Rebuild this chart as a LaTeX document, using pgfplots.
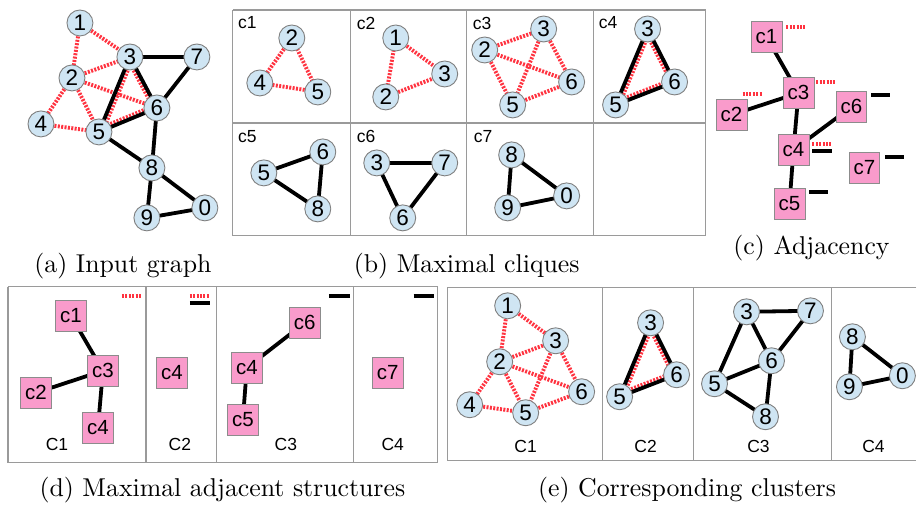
\documentclass[border=0pt]{standalone}
\usepackage{pgfplots}
\pgfplotsset{compat=1.18}
\usepackage{fontspec}
\newfontfamily\arial{Liberation Sans}
\newfontfamily\capfont{lmroman10-regular.otf}

\definecolor{vblue}{HTML}{CFE5F3}
\definecolor{vgray}{HTML}{7F7F7F}
\definecolor{sqpink}{HTML}{F99BCB}
\definecolor{sqgray}{HTML}{8C8C8C}
\definecolor{edgered}{HTML}{FF3340}
\definecolor{boxgray}{HTML}{9A9A9A}

\pgfplotsset{
  blk/.style={black, line width=3.8pt, mark=none},
  rdot/.style={edgered, line width=3.9pt, dash pattern=on 2pt off 1.4pt, mark=none},
  box/.style={boxgray, line width=1.2pt, mark=none},
  vtx/.style={only marks, mark=*, mark size=13pt,
    mark options={fill=vblue, draw=vgray, line width=0.9pt, solid},
    point meta=explicit symbolic, nodes near coords, nodes near coords align={center},
    nodes near coords style={font=\arial\fontsize{22.5}{24}\selectfont, text=black, inner sep=0pt}},
  sq/.style={only marks, mark=square*, mark size=15.5pt,
    mark options={fill=sqpink, draw=sqgray, line width=0.9pt, solid},
    point meta=explicit symbolic, nodes near coords, nodes near coords align={center},
    nodes near coords style={font=\arial\fontsize{20.5}{22}\selectfont, text=black, inner sep=0pt}},
}

\begin{document}
\begin{tikzpicture}
\begin{axis}[
  scale only axis, width=917pt, height=507pt,
  xmin=0, xmax=917, ymin=0, ymax=507, y dir=reverse,
  hide axis, clip=false, unbounded coords=jump,
]
% frame of the page
\addplot[draw=none] coordinates {(0,0) (917,507)};

% ---------- panel boxes
\addplot[box] coordinates {
  (233,10) (706,10) (706,236) (233,236) (233,10) (nan,nan)
  (233,123) (706,123) (nan,nan)
  (351,10) (351,236) (nan,nan) (467,10) (467,236) (nan,nan) (594,10) (594,236)
};
\addplot[box] coordinates {
  (8,287) (438,287) (438,463) (8,463) (8,287) (nan,nan)
  (146,287) (146,463) (nan,nan) (217,287) (217,463) (nan,nan) (354,287) (354,463)
};
\addplot[box] coordinates {
  (917,288) (448,288) (448,461) (917,461) (nan,nan)
  (603,288) (603,461) (nan,nan) (694,288) (694,461) (nan,nan) (832,288) (832,461)
};

% ---------- (a) input graph
\addplot[rdot] coordinates {
  (80,23) (72,78) (nan,nan) (80,23) (130,57) (nan,nan) (72,78) (130,57) (nan,nan)
  (72,78) (157,108) (nan,nan) (72,78) (99,132) (nan,nan) (72,78) (41,124) (nan,nan)
  (41,124) (99,132) (nan,nan)
  (133,58) (102,133) (nan,nan) (127.4,58.4) (154.4,109.4) (nan,nan) (97.9,129.2) (155.9,105.2)
};
\addplot[blk] coordinates {
  (130,57) (197,57) (157,108) (130,57) (99,132) (157,108) (152,168) (99,132) (nan,nan)
  (152,168) (205,208) (147,218) (152,168)
};
\addplot[vtx] table[meta=l] {
x y l
205 208 0
80 23 1
72 78 2
130 57 3
41 124 4
99 132 5
157 108 6
197 57 7
152 168 8
147 218 9
};

% ---------- (b) maximal cliques
\addplot[rdot] coordinates {
  (292,38) (260,83) (318,92) (292,38) (nan,nan)
  (396,38) (445,74) (386,97) (396,38) (nan,nan)
  (485,50) (544,29) (nan,nan) (485,50) (572,82) (nan,nan) (485,50) (513,105) (nan,nan)
  (544,29) (513,105) (nan,nan) (544,29) (572,82) (nan,nan) (513,105) (572,82) (nan,nan)
  (650.8,30.2) (618.8,106.2) (nan,nan) (645.3,30.4) (672.3,83.4) (nan,nan) (614.9,102.2) (673.9,79.2)
};
\addplot[blk] coordinates {
  (648,29) (675,82) (616,105) (648,29) (nan,nan)
  (264,173) (323,152) (318,209) (264,173) (nan,nan)
  (377,163) (445,163) (403,218) (377,163) (nan,nan)
  (512,155) (567,196) (508,208) (512,155)
};
\addplot[vtx] table[meta=l] {
x y l
292 38 2
260 83 4
318 92 5
396 38 1
445 74 3
386 97 2
544 29 3
485 50 2
572 82 6
513 105 5
648 29 3
675 82 6
616 105 5
323 152 6
264 173 5
318 209 8
377 163 3
445 163 7
403 218 6
512 155 8
567 196 0
508 208 9
};

% ---------- (c) adjacency
\addplot[blk] coordinates {
  (767,37) (799,93) (794,150) (790,204) (nan,nan)
  (732,115) (799,93) (nan,nan) (794,150) (852,107)
};
\addplot[rdot] coordinates {
  (787,27) (806,27) (nan,nan) (817,82) (837,82) (nan,nan) (743,94) (763,94) (nan,nan)
  (813,144) (833,144)
};
\addplot[blk, line width=3.6pt] coordinates {
  (813,151) (833,151) (nan,nan) (872,95) (891,95) (nan,nan) (886,157) (905,157) (nan,nan)
  (810,192) (829,192)
};
\addplot[sq] table[meta=l] {
x y l
767 37 c1
799 93 c3
732 115 c2
852 107 c6
794 150 c4
865 168 c7
790 204 c5
};

% ---------- (d) maximal adjacent structures
\addplot[blk] coordinates {
  (71,316) (103,371) (98,428) (nan,nan) (36,393) (103,371) (nan,nan)
  (305,323) (247,368) (243,420)
};
\addplot[rdot] coordinates {(122,296) (142,296) (nan,nan) (190,296) (210,296)};
\addplot[blk, line width=3.6pt] coordinates {
  (190,303) (210,303) (nan,nan) (329,296) (350,296) (nan,nan) (414,296) (434,296)
};
\addplot[sq] table[meta=l] {
x y l
71 316 c1
103 371 c3
36 393 c2
98 428 c4
172 373 c4
305 323 c6
247 368 c4
243 420 c5
388 373 c7
};

% ---------- (e) corresponding clusters
\addplot[rdot] coordinates {
  (508,306) (500,362) (nan,nan) (508,306) (556,341) (nan,nan) (500,362) (556,341) (nan,nan)
  (500,362) (582,392) (nan,nan) (500,362) (470,405) (nan,nan) (500,362) (526,413) (nan,nan)
  (470,405) (526,413) (nan,nan) (556,341) (526,413) (nan,nan) (556,341) (582,392) (nan,nan)
  (526,413) (582,392) (nan,nan)
  (653.8,324.2) (622.8,398.2) (nan,nan) (648.3,324.4) (674.3,376.4) (nan,nan) (618.9,394.2) (675.9,372.2)
};
\addplot[blk] coordinates {
  (651,323) (677,375) (620,397) (651,323) (nan,nan)
  (747,312) (811,311) (772,361) (747,312) (715,384) (772,361) (766,417) (715,384) (nan,nan)
  (853,337) (903,376) (850,387) (853,337)
};
\addplot[vtx] table[meta=l] {
x y l
508 306 1
556 341 3
500 362 2
582 392 6
470 405 4
526 413 5
651 323 3
677 375 6
620 397 5
747 312 3
811 311 7
772 361 6
715 384 5
766 417 8
853 337 8
903 376 0
850 387 9
};

% ---------- texts
\begin{scope}[every node/.style={font=\arial\fontsize{17.5}{19}\selectfont, inner sep=0pt}]
\node[anchor=west] at (axis cs:238,23) {c1};
\node[anchor=west] at (axis cs:357,23) {c2};
\node[anchor=west] at (axis cs:473,23) {c3};
\node[anchor=west] at (axis cs:599,23) {c4};
\node[anchor=west] at (axis cs:238,137) {c5};
\node[anchor=west] at (axis cs:357,137) {c6};
\node[anchor=west] at (axis cs:474,137) {c7};
\node at (axis cs:57,445) {C1};
\node at (axis cs:180,445) {C2};
\node at (axis cs:286,445) {C3};
\node at (axis cs:393,445) {C4};
\node at (axis cs:526,447) {C1};
\node at (axis cs:646,447) {C2};
\node at (axis cs:759,447) {C3};
\node at (axis cs:874,447) {C4};
\end{scope}
\begin{scope}[every node/.style={font=\capfont\fontsize{25.8}{30}\selectfont, inner sep=0pt, anchor=base}]
\node at (axis cs:123,273) {(a) Input graph};
\node at (axis cs:467,273) {(b) Maximal cliques};
\node at (axis cs:812,254.5) {(c) Adjacency};
\node at (axis cs:222.5,496.5) {(d) Maximal adjacent structures};
\node at (axis cs:687.5,496.5) {(e) Corresponding clusters};
\end{scope}
\end{axis}
\end{tikzpicture}
\end{document}
